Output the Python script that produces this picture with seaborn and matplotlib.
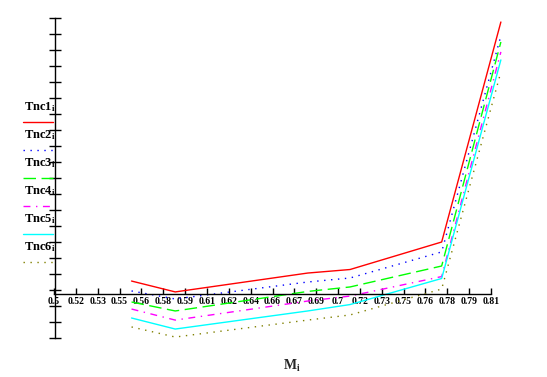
import pandas as pd
import matplotlib.pyplot as plt
from matplotlib.lines import Line2D
import seaborn as sns

# Mach numbers and Tnc curves (y has no labelled scale, values in tick units)
mach = [0.555, 0.586, 0.68, 0.71, 0.775, 0.817]
tnc1 = [0.81, 0.13, 1.31, 1.53, 3.25, 17.0]
tnc2 = [0.19, -0.31, 0.75, 1.0, 2.63, 16.13]
tnc3 = [-0.5, -1.06, 0.16, 0.44, 1.75, 15.75]
tnc4 = [-0.94, -1.63, -0.44, -0.13, 1.09, 15.13]
tnc5 = [-1.5, -2.19, -1.06, -0.66, 0.97, 14.63]
tnc6 = [-2.06, -2.69, -1.63, -1.31, 0.31, 13.88]

series = ['Tnc1', 'Tnc2', 'Tnc3', 'Tnc4', 'Tnc5', 'Tnc6']
xtick_vals = [0.5 + k * 0.0155 for k in range(21)]
xtick_labels = ['0.5', '0.52', '0.53', '0.55', '0.56', '0.58', '0.59', '0.61', '0.62', '0.64',
                '0.66', '0.67', '0.69', '0.7', '0.72', '0.73', '0.75', '0.76', '0.78', '0.79', '0.81']

df = pd.concat([
    pd.DataFrame({'M': mach, 'Tnc': vals, 'series': name})
    for name, vals in zip(series, [tnc1, tnc2, tnc3, tnc4, tnc5, tnc6])
])

colors = {'Tnc1': '#ff0000', 'Tnc2': '#0000ff', 'Tnc3': '#00ff00',
          'Tnc4': '#ff00ff', 'Tnc5': '#00ffff', 'Tnc6': '#808000'}
dashes = {'Tnc1': '', 'Tnc2': (1, 4), 'Tnc3': (9, 4), 'Tnc4': (5, 4, 1, 4),
          'Tnc5': '', 'Tnc6': (1, 4)}

sns.set_theme(style='white')
plt.rcParams['mathtext.fontset'] = 'custom'
plt.rcParams['mathtext.rm'] = 'Liberation Serif'
plt.rcParams['mathtext.bf'] = 'Liberation Serif:bold'

fig = plt.figure(figsize=(5.47, 3.77), dpi=100)
ax = fig.add_axes([54 / 547, 39 / 377, (505 - 54) / 547, 320 / 377])

sns.lineplot(data=df, x='M', y='Tnc', hue='series', style='series', palette=colors,
             dashes=dashes, sort=False, legend=False, linewidth=1.0, ax=ax)

ax.set_xlim(0.5, 0.5 + 451 / 1409.7)
ax.set_ylim(-2.75, 17.25)
ax.set_xlabel('')
ax.set_ylabel('')

for s in ['top', 'right']:
    ax.spines[s].set_visible(False)
ax.spines['bottom'].set_position(('data', 0))
ax.spines['bottom'].set_bounds(0.5, 0.81)
ax.spines['left'].set_position(('data', 0.501))
for s in ['bottom', 'left']:
    ax.spines[s].set_color('black')
    ax.spines[s].set_linewidth(1.0)

ax.set_xticks(xtick_vals)
ax.set_xticklabels(xtick_labels, fontfamily='Liberation Serif', fontweight='bold', fontsize=7)
ax.tick_params(axis='x', direction='in', length=4, width=1, color='black', pad=2,
               bottom=True, labelcolor='black')
ax.set_yticks([-2.75 + k for k in range(21)])
ax.set_yticklabels([])
ax.tick_params(axis='y', direction='inout', length=9, width=1, color='black', left=True)

# legend drawn like the original: label above its line sample
for i, name in enumerate(series):
    ty = 377 - (107 + 28 * i)
    ly = 377 - (122 + 28 * i)
    fig.text(24 / 547, ty / 377, r'$\mathbf{%s_i}$' % name, fontsize=9,
             ha='left', va='center', color='black')
    d = dashes[name]
    ls = '-' if d == '' else (0, d)
    fig.add_artist(Line2D([23 / 547, 53 / 547], [ly / 377, ly / 377], transform=fig.transFigure,
                          color=colors[name], linestyle=ls, linewidth=1.0))

fig.text(292 / 547, (377 - 366) / 377, r'$\mathbf{M_i}$', fontsize=10, ha='center', va='center')

fig.savefig('out.png', dpi=100)
